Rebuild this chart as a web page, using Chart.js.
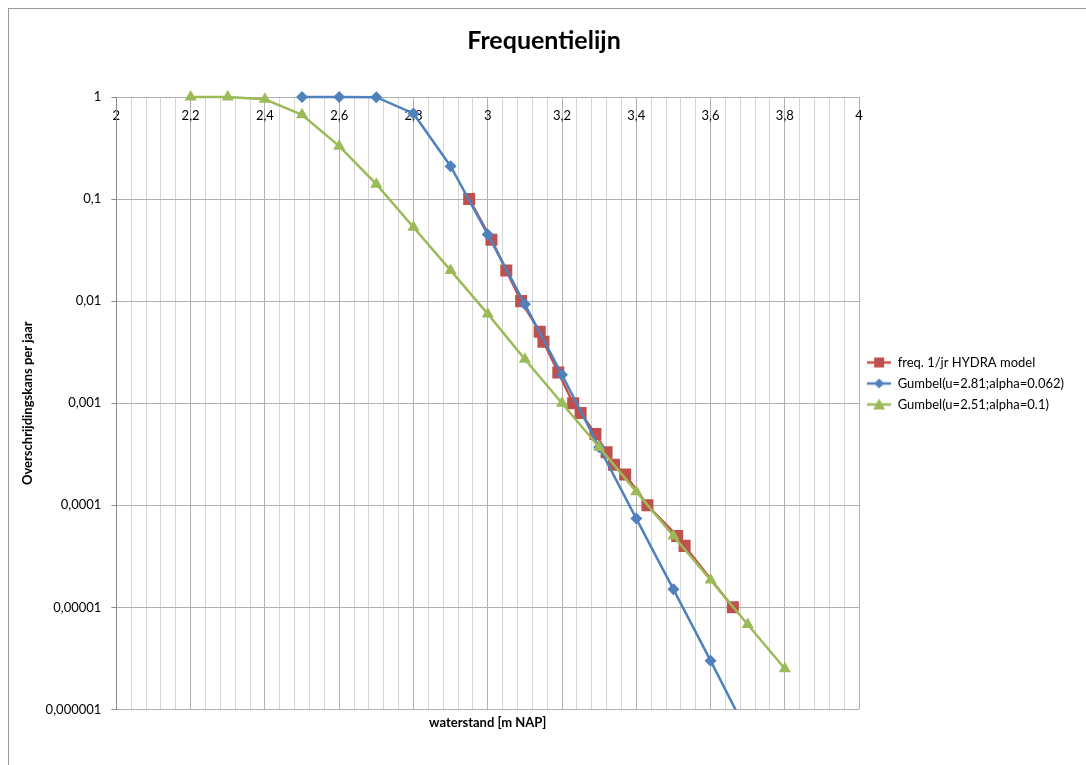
<!DOCTYPE html>
<html>
<head>
<meta charset="utf-8">
<script src="https://cdn.jsdelivr.net/npm/chart.js@4/dist/chart.umd.min.js"></script>
<style>
  body { margin: 0; background: #fff; }
  #wrap { width: 1086px; height: 765px; position: relative; }
</style>
</head>
<body>
<div id="wrap"><canvas id="freqChart" width="1086" height="765"></canvas></div>
<script>
// ---------------- data
var hydraWater = [2.95, 3.01, 3.05, 3.09, 3.14, 3.15, 3.19, 3.23, 3.25, 3.29, 3.32, 3.34, 3.37, 3.43, 3.51, 3.53, 3.66];
var hydraKans = [0.1, 0.04, 0.02, 0.01, 0.005, 0.004, 0.002, 0.001, 0.0008, 0.0005, 0.00033, 0.00025, 0.0002, 0.0001, 0.00005, 0.00004, 0.00001];

var gumbel1Water = [2.5, 2.6, 2.7, 2.8, 2.9, 3.0, 3.1, 3.2, 3.3, 3.4, 3.5, 3.6, 3.7];
var gumbel1Kans = [1, 1, 0.997, 0.69, 0.21, 0.045, 0.0093, 0.0019, 0.00037, 0.000074, 0.000015, 0.000003, 0.00000058];

var gumbel2Water = [2.2, 2.3, 2.4, 2.5, 2.6, 2.7, 2.8, 2.9, 3.0, 3.1, 3.2, 3.3, 3.4, 3.5, 3.6, 3.7, 3.8];
var gumbel2Kans = [1, 1, 0.95, 0.67, 0.33, 0.14, 0.053, 0.02, 0.0075, 0.0027, 0.001, 0.00037, 0.000136, 0.00005, 0.0000185, 0.0000068, 0.0000025];

var seriesNames = ["freq. 1/jr HYDRA model", "Gumbel(u=2.81;alpha=0.062)", "Gumbel(u=2.51;alpha=0.1)"];
var xTickValues = [2, 2.2, 2.4, 2.6, 2.8, 3, 3.2, 3.4, 3.6, 3.8, 4];
var xTickLabels = ["2", "2,2", "2,4", "2,6", "2,8", "3", "3,2", "3,4", "3,6", "3,8", "4"];
var yTickValues = [1, 0.1, 0.01, 0.001, 0.0001, 0.00001, 0.000001];
var yTickLabels = ["1", "0,1", "0,01", "0,001", "0,0001", "0,00001", "0,000001"];

var red = "#C0504D";
var blue = "#4F81BD";
var green = "#9BBB59";
var fontFam = "Lato, 'Open Sans', sans-serif";

function toPoints(xs, ys) {
    return xs.map(function (x, i) { return { x: x, y: ys[i] }; });
}

function isMajor(v) {
    return Math.abs(v * 5 - Math.round(v * 5)) < 1e-6;
}

// small canvas with line + marker for the legend
function legendIcon(color, style) {
    var c = document.createElement("canvas");
    c.width = 24; c.height = 16;
    var g = c.getContext("2d");
    g.strokeStyle = color; g.fillStyle = color; g.lineWidth = 2.5;
    g.beginPath(); g.moveTo(0, 8); g.lineTo(24, 8); g.stroke();
    g.beginPath();
    if (style === "rect") {
        g.rect(7, 3, 10, 10);
    } else if (style === "rectRot") {
        g.moveTo(12, 3); g.lineTo(17, 8); g.lineTo(12, 13); g.lineTo(7, 8); g.closePath();
    } else {
        g.moveTo(12, 2); g.lineTo(18, 13); g.lineTo(6, 13); g.closePath();
    }
    g.fill();
    return c;
}

var icons = [legendIcon(red, "rect"), legendIcon(blue, "rectRot"), legendIcon(green, "triangle")];

//------------------------------------------ outer frame
var framePlugin = {
    id: "frame",
    beforeDraw: function (chart) {
        var ctx = chart.ctx;
        ctx.save();
        ctx.fillStyle = "#fff";
        ctx.fillRect(0, 0, chart.width, chart.height);
        ctx.strokeStyle = "#9a9a9a";
        ctx.lineWidth = 1;
        ctx.strokeRect(8.5, 8.5, 1200, 1200);
        ctx.restore();
    }
};

var lineClip = { left: 12, top: 12, right: 12, bottom: 0 };

var ctx = document.getElementById("freqChart").getContext("2d");
var chart = new Chart(ctx, {
    type: "line",
    data: {
        datasets: [
            {
                label: seriesNames[0],
                data: toPoints(hydraWater, hydraKans),
                borderColor: red, backgroundColor: red,
                borderWidth: 2.5, pointStyle: "rect", pointRadius: 8.5,
                pointBorderWidth: 0, order: 3, clip: lineClip, xAxisID: "x"
            },
            {
                label: seriesNames[1],
                data: toPoints(gumbel1Water, gumbel1Kans),
                borderColor: blue, backgroundColor: blue,
                borderWidth: 2.5, pointStyle: "rectRot", pointRadius: 6,
                pointBorderWidth: 0, order: 2, clip: lineClip, xAxisID: "x"
            },
            {
                label: seriesNames[2],
                data: toPoints(gumbel2Water, gumbel2Kans),
                borderColor: green, backgroundColor: green,
                borderWidth: 2.5, pointStyle: "triangle", pointRadius: 7,
                pointBorderWidth: 0, order: 1, clip: lineClip, xAxisID: "x"
            }
        ]
    },
    options: {
        responsive: false,
        animation: false,
        layout: { padding: { left: 14, top: 22, right: 12, bottom: 20 } },
        plugins: {
            title: {
                display: true,
                text: "Frequentielijn",
                color: "#000",
                font: { family: fontFam, size: 25, weight: "bold" },
                padding: { top: 4, bottom: 41 }
            },
            legend: {
                position: "right",
                align: "center",
                labels: {
                    color: "#000",
                    font: { family: fontFam, size: 13 },
                    usePointStyle: true,
                    pointStyleWidth: 24,
                    padding: 8,
                    generateLabels: function (ch) {
                        return seriesNames.map(function (name, i) {
                            return {
                                text: name, pointStyle: icons[i], fillStyle: "#fff",
                                strokeStyle: "#fff", lineWidth: 0, datasetIndex: i, hidden: false
                            };
                        });
                    }
                }
            },
            tooltip: { enabled: false }
        },
        scales: {
            x: {
                type: "linear",
                position: "top",
                min: 2, max: 4,
                afterFit: function (s) { s.height = 0; },
                ticks: {
                    stepSize: 0.04,
                    maxTicksLimit: 100,
                    autoSkip: false,
                    maxRotation: 0,
                    mirror: true,
                    padding: 11,
                    color: "#000",
                    font: { family: fontFam, size: 13 },
                    callback: function (v) {
                        if (!isMajor(v)) return "";
                        var i = xTickValues.findIndex(function (t) { return Math.abs(t - v) < 1e-6; });
                        return i >= 0 ? xTickLabels[i] : "";
                    }
                },
                grid: {
                    drawTicks: false,
                    color: function (c) {
                        return c.tick && isMajor(c.tick.value) ? "#b0b0b0" : "#d4d4d4";
                    }
                },
                border: { color: "#b0b0b0" }
            },
            xb: {
                type: "linear",
                position: "bottom",
                min: 2, max: 4,
                ticks: { display: false },
                grid: { display: false, drawTicks: false },
                border: { display: false },
                title: {
                    display: true,
                    text: "waterstand [m NAP]",
                    color: "#000",
                    font: { family: fontFam, size: 13, weight: "bold" },
                    padding: { top: 6, bottom: 14 }
                }
            },
            y: {
                type: "logarithmic",
                min: 0.000001, max: 1,
                afterBuildTicks: function (s) {
                    s.ticks = yTickValues.map(function (v) { return { value: v }; });
                },
                ticks: {
                    padding: 10,
                    color: "#000",
                    font: { family: fontFam, size: 13 },
                    callback: function (v) {
                        var i = yTickValues.findIndex(function (t) { return Math.abs(t - v) < t * 1e-6; });
                        return i >= 0 ? yTickLabels[i] : "";
                    }
                },
                grid: { color: "#b0b0b0", tickLength: 5, tickColor: "#8c8c8c" },
                border: { color: "#8c8c8c" },
                title: {
                    display: true,
                    text: "Overschrijdingskans per jaar",
                    color: "#000",
                    font: { family: fontFam, size: 13, weight: "bold" },
                    padding: { top: 6, bottom: 0 }
                }
            }
        }
    },
    plugins: [framePlugin]
});
</script>
</body>
</html>
